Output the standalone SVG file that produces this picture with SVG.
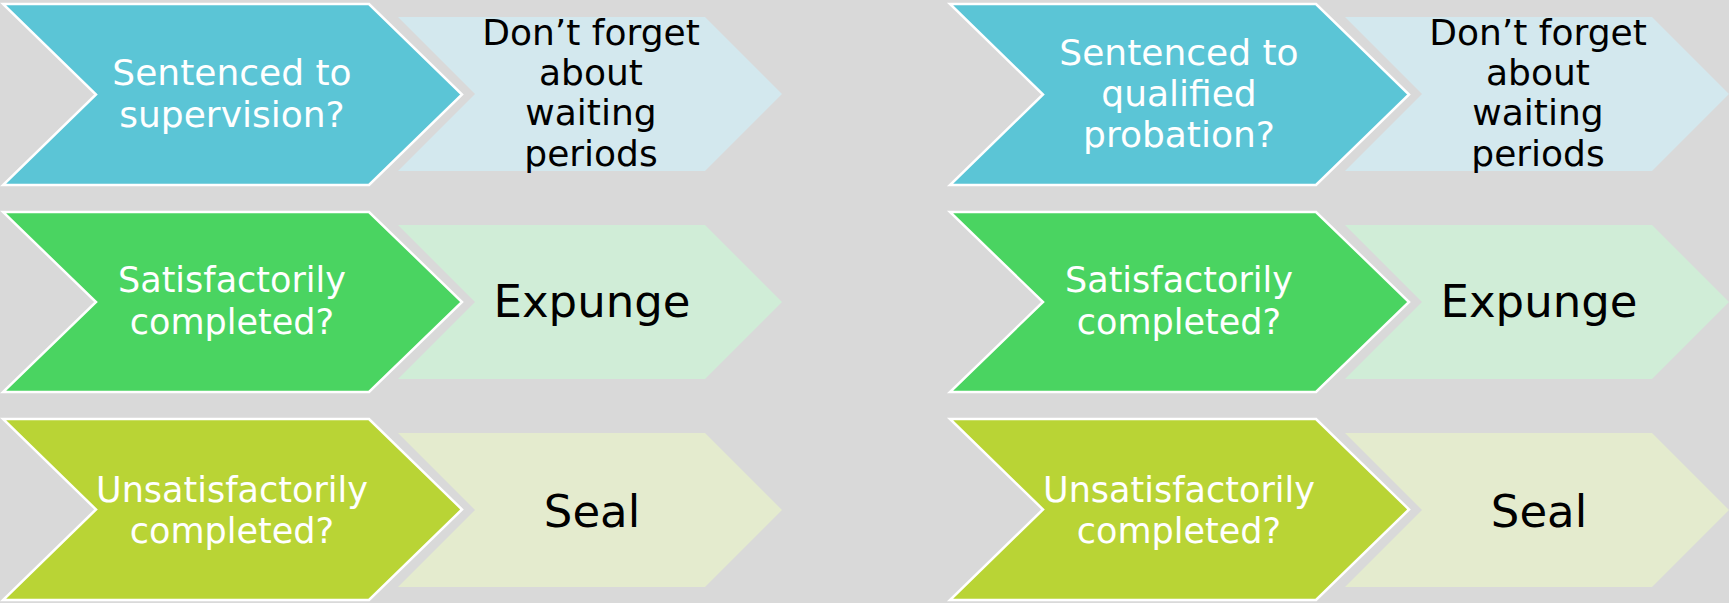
<svg xmlns="http://www.w3.org/2000/svg" width="1729" height="603" viewBox="0 0 1729 603">
<style>
.bg{fill:#D9D9D9}
.big{stroke:#FFFFFF;stroke-width:2.5;stroke-linejoin:miter}
.blue{fill:#5BC5D6}.lblue{fill:#D3E8EE}
.green{fill:#4AD461}.lgreen{fill:#D0EDD7}
.lime{fill:#B9D435}.llime{fill:#E4EBCE}
text{font-family:"DejaVu Sans","Liberation Sans",sans-serif;text-anchor:middle}
.w{fill:#FFFFFF;font-size:35px}
.w1{fill:#FFFFFF;font-size:36px}
.d{fill:#000000;font-size:36px}
.dl{fill:#000000;font-size:45px}
</style>
<rect class="bg" x="0" y="0" width="1729" height="603"/>
<g id="connectors"/>
<!-- Left column -->
<g id="left-sentenced">
<polygon class="lblue" points="398,17 705,17 782,94 705,171 398,171 475,94"/>
<polygon class="blue big" points="3,4 369,4 462,94.5 369,185 3,185 96,94.5"/>
<text class="w1" x="232" y="85">Sentenced to</text>
<text class="w1" x="232" y="127">supervision?</text>
</g>
<g id="left-waiting">
<text class="d" x="591" y="45">Don’t forget</text>
<text class="d" x="591" y="85">about</text>
<text class="d" x="591" y="125">waiting</text>
<text class="d" x="591" y="166">periods</text>
</g>
<g id="left-satisfactory">
<polygon class="lgreen" points="398,225 705,225 782,302 705,379 398,379 475,302"/>
<polygon class="green big" points="3,212 369,212 462,302 369,392 3,392 96,302"/>
<text class="w" x="232" y="292">Satisfactorily</text>
<text class="w" x="232" y="334">completed?</text>
</g>
<g id="left-expunge">
<text class="dl" x="592" y="317">Expunge</text>
</g>
<g id="left-unsatisfactory">
<polygon class="llime" points="398,433 705,433 782,510 705,587 398,587 475,510"/>
<polygon class="lime big" points="3,419 369,419 462,509.5 369,600 3,600 96,509.5"/>
<text class="w" x="232" y="502">Unsatisfactorily</text>
<text class="w" x="232" y="543">completed?</text>
</g>
<g id="left-seal">
<text class="dl" x="592" y="527">Seal</text>
</g>
<!-- Right column -->
<g id="right-sentenced">
<polygon class="lblue" points="1345,17 1652,17 1729,94 1652,171 1345,171 1422,94"/>
<polygon class="blue big" points="950,4 1316,4 1409,94.5 1316,185 950,185 1043,94.5"/>
<text class="w1" x="1179" y="65">Sentenced to</text>
<text class="w1" x="1179" y="106">qualified</text>
<text class="w1" x="1179" y="147">probation?</text>
</g>
<g id="right-waiting">
<text class="d" x="1538" y="45">Don’t forget</text>
<text class="d" x="1538" y="85">about</text>
<text class="d" x="1538" y="125">waiting</text>
<text class="d" x="1538" y="166">periods</text>
</g>
<g id="right-satisfactory">
<polygon class="lgreen" points="1345,225 1652,225 1729,302 1652,379 1345,379 1422,302"/>
<polygon class="green big" points="950,212 1316,212 1409,302 1316,392 950,392 1043,302"/>
<text class="w" x="1179" y="292">Satisfactorily</text>
<text class="w" x="1179" y="334">completed?</text>
</g>
<g id="right-expunge">
<text class="dl" x="1539" y="317">Expunge</text>
</g>
<g id="right-unsatisfactory">
<polygon class="llime" points="1345,433 1652,433 1729,510 1652,587 1345,587 1422,510"/>
<polygon class="lime big" points="950,419 1316,419 1409,509.5 1316,600 950,600 1043,509.5"/>
<text class="w" x="1179" y="502">Unsatisfactorily</text>
<text class="w" x="1179" y="543">completed?</text>
</g>
<g id="right-seal">
<text class="dl" x="1539" y="527">Seal</text>
</g>
</svg>
